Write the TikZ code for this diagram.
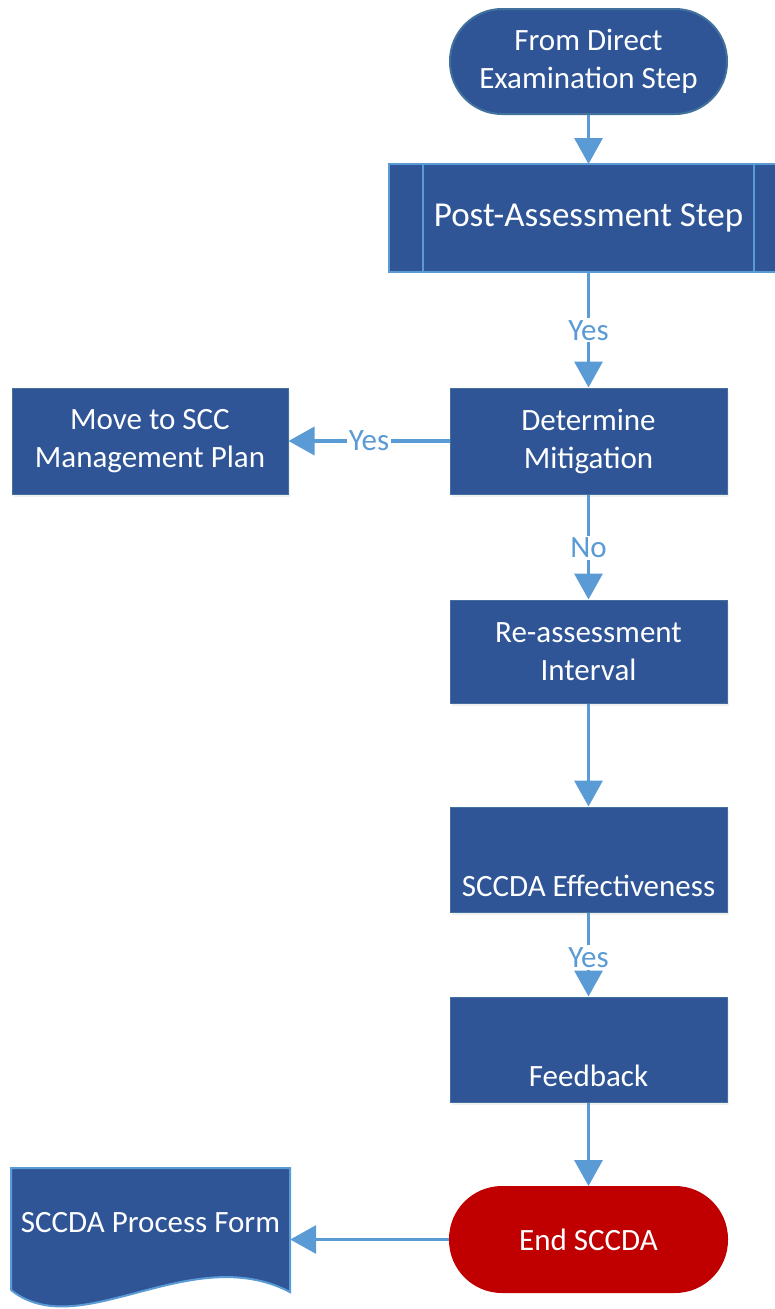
\documentclass[tikz,border=0pt]{standalone}
\usepackage{fontspec}
\setmainfont{Carlito}
\usetikzlibrary{arrows.meta,shadows}
\definecolor{boxblue}{HTML}{2F5597}
\definecolor{edgeblue}{HTML}{41719C}
\definecolor{arrowblue}{HTML}{5B9BD5}
\definecolor{endred}{HTML}{C00000}
\begin{document}
\begin{tikzpicture}[x=1pt,y=-1pt,
  every node/.style={font=\fontsize{31}{38}\selectfont, text=white, align=center, inner sep=0pt},
  procbox/.style={rectangle, fill=boxblue, draw=edgeblue, line width=1pt, minimum width=277pt, minimum height=106pt,
     drop shadow={opacity=0.12, shadow xshift=2pt, shadow yshift=-3pt}},
  termbox/.style={rectangle, rounded corners=52pt, fill=boxblue, draw=edgeblue, line width=2pt, minimum width=277pt, minimum height=105pt},
  flow/.style={draw=arrowblue, line width=3.5pt, -{Triangle[length=26pt,width=28pt]}},
  lbl/.style={fill=white, text=arrowblue, inner sep=2pt}
]
\useasboundingbox (0,0) rectangle (775,1309);
\clip (0,0) rectangle (775,1309);

% nodes
\node[termbox] (start) at (588.5,61.5) {From Direct\\Examination Step};
\node[rectangle, fill=boxblue, draw=arrowblue, line width=2pt, minimum width=399pt, minimum height=108pt,
      font=\fontsize{35}{40}\selectfont] (post) at (588.5,218) {Post-Assessment Step};
\draw[arrowblue, line width=2pt] ([xshift=35pt]post.north west) -- ([xshift=35pt]post.south west);
\draw[arrowblue, line width=2pt] ([xshift=-35pt]post.north east) -- ([xshift=-35pt]post.south east);

\node[procbox] (det) at (588.5,441) {Determine\\Mitigation};
\node[procbox, minimum width=276pt] (move) at (150,441) {Move to SCC\\Management Plan};
\node[procbox, minimum height=103pt] (reass) at (588.5,651.5) {Re-assessment\\Interval};
\node[procbox, minimum height=105pt] (eff) at (588.5,859.5) {\mbox{}\\[36pt]SCCDA Effectiveness};
\node[procbox, minimum height=105pt] (feed) at (588.5,1049.5) {\mbox{}\\[36pt]Feedback};
\node[termbox, fill=endred, draw=endred] (endn) at (588.5,1239.5) {End SCCDA};

% document shape
\fill[boxblue] (11,1168) -- (290,1168) -- (290,1292)
   .. controls (190,1240) and (80,1345) .. (11,1290) -- cycle;
\draw[arrowblue, line width=2pt] (11,1290) -- (11,1168) -- (290,1168) -- (290,1292)
   .. controls (190,1240) and (80,1345) .. (11,1290);
\node[rectangle, minimum width=279pt] (form) at (150.5,1223) {SCCDA Process Form};

% connectors
\draw[flow] (start.south) -- (post.south |- 0,164);
\draw[flow] (post.south) -- (det.north) node[lbl, midway] {Yes};
\draw[flow] (det.west) -- (move.east) node[lbl, pos=0.5] {Yes};
\draw[flow] (det.south) -- (reass.north) node[lbl, midway, yshift=-1pt] {No};
\draw[flow] (reass.south) -- (eff.north);
\draw[flow] (eff.south) -- (feed.north) node[lbl, midway, yshift=-3pt] {Yes};
\draw[flow] (feed.south) -- (endn.north);
\draw[flow] (endn.west) -- (endn.west -| form.east);
\end{tikzpicture}
\end{document}
